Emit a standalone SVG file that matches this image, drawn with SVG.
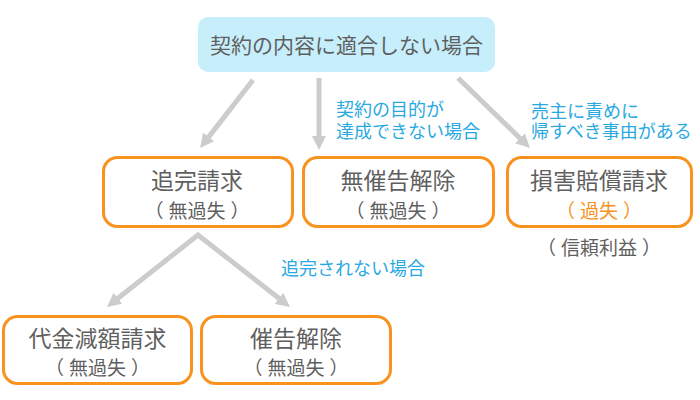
<svg xmlns="http://www.w3.org/2000/svg" width="700" height="400" viewBox="0 0 700 400">
<style>
.box{fill:#ffffff;stroke:#f7931e;stroke-width:3}
.t{font-family:"Noto Sans CJK JP","Noto Sans",sans-serif;fill:#5f5f5f;text-anchor:middle;dominant-baseline:central}
.top{font-size:21px}
.big{font-size:23px}
.sub{font-size:19px}
.lbl{font-family:"Noto Sans CJK JP","Noto Sans",sans-serif;fill:#29a9e1;font-size:18px;dominant-baseline:central}
.arr{fill:none;stroke:#cccccc;stroke-width:5;stroke-linejoin:miter}
</style>
<defs>
<marker id="ah" viewBox="0 0 14 14" refX="4" refY="7" markerWidth="14" markerHeight="14" markerUnits="userSpaceOnUse" orient="auto-start-reverse">
<path d="M0,0 L14,7 L0,14 z" fill="#cccccc"/>
</marker>
</defs>
<rect width="700" height="400" fill="#ffffff"/>
<g id="connectors">
<line class="arr" x1="253" y1="80" x2="206.2" y2="140.1" marker-end="url(#ah)"/>
<line class="arr" x1="319" y1="78" x2="319" y2="140" marker-end="url(#ah)"/>
<line class="arr" x1="458" y1="78" x2="522.8" y2="141" marker-end="url(#ah)"/>
<path class="arr" d="M114.8,300.8 L198,235 L282.1,300.8" marker-start="url(#ah)" marker-end="url(#ah)"/>
<text class="lbl"><tspan x="336" y="107.5">契約の目的が</tspan><tspan x="336" y="129.5">達成できない場合</tspan></text>
<text class="lbl"><tspan x="531" y="109.5">売主に責めに</tspan><tspan x="531" y="129.5">帰すべき事由がある</tspan></text>
<text class="lbl" x="281" y="267">追完されない場合</text>
</g>
<g id="root">
<rect x="198" y="17" width="297" height="55" rx="10" fill="#c7eefb"/>
<text class="t top" x="346.5" y="44">契約の内容に適合しない場合</text>
</g>
<g id="tsuikan">
<rect class="box" x="103.5" y="157.5" width="189" height="69" rx="14"/>
<text class="t big" x="197" y="179">追完請求</text>
<text class="t sub" x="197" y="209">（<tspan dx="5">無過失</tspan><tspan dx="5">）</tspan></text>
</g>
<g id="musaikoku">
<rect class="box" x="303.5" y="157.5" width="190" height="69" rx="14"/>
<text class="t big" x="398" y="179">無催告解除</text>
<text class="t sub" x="398" y="209">（<tspan dx="5">無過失</tspan><tspan dx="5">）</tspan></text>
</g>
<g id="songai">
<rect class="box" x="507.5" y="157.5" width="184" height="69" rx="14"/>
<text class="t big" x="599" y="179">損害賠償請求</text>
<text class="t sub" x="599" y="209" style="fill:#f7931e">（<tspan dx="5">過失</tspan><tspan dx="5">）</tspan></text>
<text class="t sub" x="599" y="246">（<tspan dx="5">信頼利益</tspan><tspan dx="5">）</tspan></text>
</g>
<g id="daikin">
<rect class="box" x="3.5" y="316.5" width="188" height="67" rx="14"/>
<text class="t big" x="97.5" y="337">代金減額請求</text>
<text class="t sub" x="97.5" y="366">（<tspan dx="5">無過失</tspan><tspan dx="5">）</tspan></text>
</g>
<g id="saikoku">
<rect class="box" x="201.5" y="316.5" width="189" height="67" rx="14"/>
<text class="t big" x="296" y="337">催告解除</text>
<text class="t sub" x="296" y="366">（<tspan dx="5">無過失</tspan><tspan dx="5">）</tspan></text>
</g>
</svg>
